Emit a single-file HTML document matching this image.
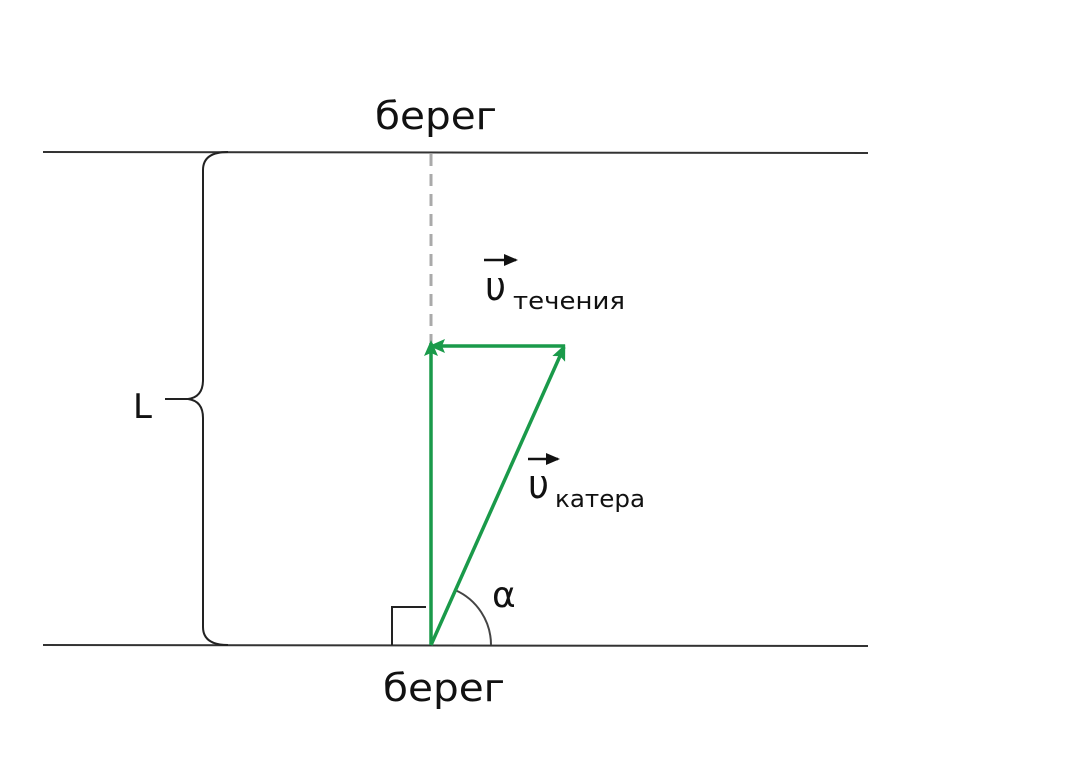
<!DOCTYPE html>
<html><head><meta charset="utf-8"><style>
body{margin:0;background:#fff}
svg{display:block}
text{font-family:"DejaVu Sans","Liberation Sans",sans-serif;fill:#111}
</style></head><body>
<svg width="1080" height="778" viewBox="0 0 1080 778">
<defs>
<marker id="ag" markerWidth="16" markerHeight="14" refX="13" refY="7" orient="auto" markerUnits="userSpaceOnUse"><path d="M0,0 L16,7 L0,14 L3,7 z" fill="#1a9a4a"/></marker>
<marker id="ab" markerWidth="14" markerHeight="12" refX="12" refY="6" orient="auto" markerUnits="userSpaceOnUse"><path d="M0,0 L14,6 L0,12 z" fill="#111"/></marker>
</defs>
<line x1="43" y1="152" x2="868" y2="153" stroke="#333" stroke-width="2"/>
<line x1="43" y1="645" x2="868" y2="646" stroke="#333" stroke-width="2"/>
<line x1="431" y1="154" x2="431" y2="345" stroke="#aaa" stroke-width="3" stroke-dasharray="12,8"/>
<line x1="431" y1="352" x2="431" y2="643" stroke="#aaa" stroke-width="2" stroke-dasharray="10,8"/>
<path d="M228,152 Q203,152 203,170 L203,380 Q203,397 188,399 Q203,401 203,418 L203,627 Q203,645 228,645" fill="none" stroke="#222" stroke-width="2"/>
<line x1="165" y1="399" x2="188" y2="399" stroke="#222" stroke-width="2"/>
<text x="133" y="418" font-size="34">L</text>
<path d="M392,645 L392,607 L426,607" fill="none" stroke="#222" stroke-width="2"/>
<path d="M491,645 A60,60 0 0 0 455,590" fill="none" stroke="#444" stroke-width="2"/>
<line x1="431" y1="645" x2="431" y2="343" stroke="#1a9a4a" stroke-width="3.5" marker-end="url(#ag)"/>
<line x1="565" y1="346" x2="432" y2="346" stroke="#1a9a4a" stroke-width="3.5" marker-end="url(#ag)"/>
<line x1="431" y1="645" x2="564" y2="347" stroke="#1a9a4a" stroke-width="3.5" marker-end="url(#ag)"/>
<text x="375" y="129" font-size="38" textLength="122" lengthAdjust="spacingAndGlyphs">берег</text>
<text x="383" y="701" font-size="38" textLength="122" lengthAdjust="spacingAndGlyphs">берег</text>
<text x="492" y="607" font-size="36">α</text>
<line x1="484" y1="260" x2="516" y2="260" stroke="#111" stroke-width="2.5" marker-end="url(#ab)"/>
<text x="485" y="300" font-size="40" textLength="21" lengthAdjust="spacingAndGlyphs">υ</text>
<text x="513" y="309" font-size="24" textLength="112" lengthAdjust="spacingAndGlyphs">течения</text>
<line x1="528" y1="459" x2="558" y2="459" stroke="#111" stroke-width="2.5" marker-end="url(#ab)"/>
<text x="528" y="498" font-size="40" textLength="21" lengthAdjust="spacingAndGlyphs">υ</text>
<text x="555" y="507" font-size="24" textLength="90" lengthAdjust="spacingAndGlyphs">катера</text>
</svg>
</body></html>
